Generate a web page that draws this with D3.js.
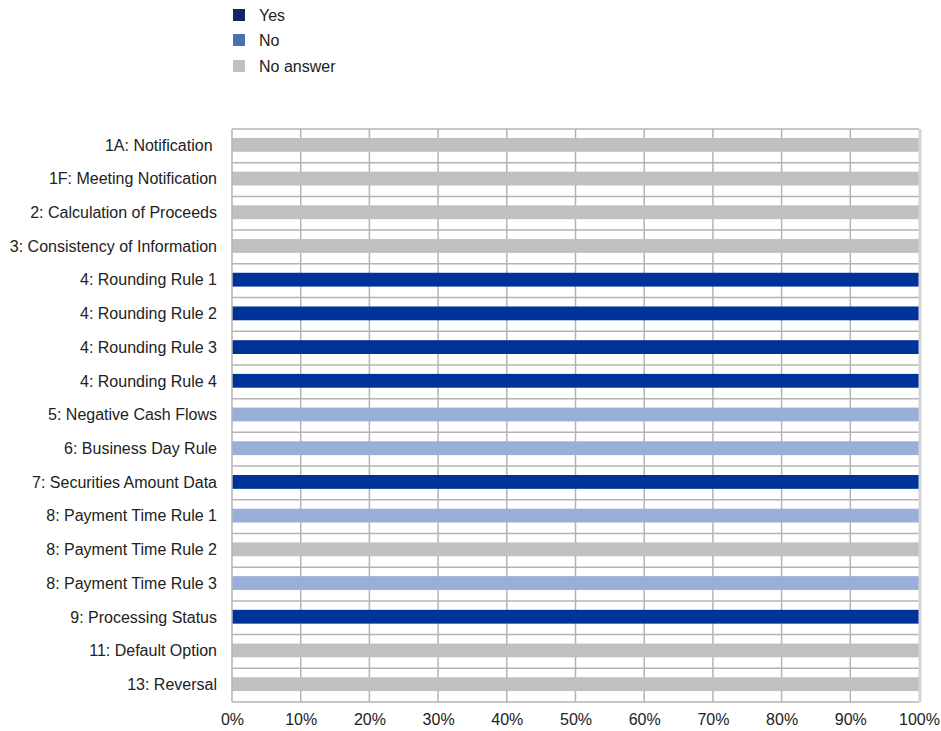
<!DOCTYPE html>
<html lang="en">
<head>
  <meta charset="UTF-8">
  <title>Responses by rule</title>
  <script src="https://d3js.org/d3.v7.min.js"></script>
  <style>
    body { margin: 0; padding: 0; background: #fff; font-family: "Liberation Sans", Arial, sans-serif; }
    svg { display: block; }
    text { fill: #222; font-size: 16px; }
  </style>
</head>
<body>
  <svg width="941" height="731"></svg>
  <script>
    const categories = [
      "1A: Notification\u00a0", "1F: Meeting Notification", "2: Calculation of Proceeds",
      "3: Consistency of Information", "4: Rounding Rule 1", "4: Rounding Rule 2",
      "4: Rounding Rule 3", "4: Rounding Rule 4", "5: Negative Cash Flows",
      "6: Business Day Rule", "7: Securities Amount Data", "8: Payment Time Rule 1",
      "8: Payment Time Rule 2", "8: Payment Time Rule 3", "9: Processing Status",
      "11: Default Option", "13: Reversal"
    ];
    // share of answers, percent
    const yes      = [0, 0, 0, 0, 100, 100, 100, 100, 0, 0, 100, 0, 0, 0, 100, 0, 0];
    const no       = [0, 0, 0, 0, 0, 0, 0, 0, 100, 100, 0, 100, 0, 100, 0, 0, 0];
    const noAnswer = [100, 100, 100, 100, 0, 0, 0, 0, 0, 0, 0, 0, 100, 0, 0, 100, 100];
    const seriesNames = ["Yes", "No", "No answer"];
    const xTicks = [0, 10, 20, 30, 40, 50, 60, 70, 80, 90, 100];

    const barColors = ["#003399", "#98afd7", "#c0c0c0"];
    const legendColors = ["#0b2a5e", "#4b70b2", "#c0c0c0"];

    const svg = d3.select("svg");
    const margin = { left: 232, right: 22, top: 129, bottom: 29 };
    const width = 941, height = 731;
    const font = "'Liberation Sans', Arial, sans-serif";

    const x = d3.scaleLinear().domain([0, 100]).range([margin.left, width - margin.right]);
    const y = d3.scaleBand().domain(categories).range([margin.top, height - margin.bottom]).paddingInner(0).paddingOuter(0);

    const table = categories.map((c, i) => ({ cat: c, Yes: yes[i], No: no[i], "No answer": noAnswer[i] }));
    const stacked = d3.stack().keys(seriesNames)(table);

    // vertical gridlines
    svg.append("g")
      .selectAll("line")
      .data(xTicks.slice(1, -1))
      .join("line")
      .attr("x1", d => x(d)).attr("x2", d => x(d))
      .attr("y1", margin.top).attr("y2", height - margin.bottom)
      .attr("stroke", "#b4b4b4").attr("stroke-width", 1.5);

    // horizontal row lines
    svg.append("g")
      .selectAll("line")
      .data(categories.slice(1))
      .join("line")
      .attr("x1", margin.left).attr("x2", width - margin.right)
      .attr("y1", d => y(d)).attr("y2", d => y(d))
      .attr("stroke", "#b4b4b4").attr("stroke-width", 1.5);

    // bars
    const barH = y.bandwidth() * 0.41;
    svg.append("g")
      .selectAll("g")
      .data(stacked)
      .join("g")
      .attr("fill", (d, i) => barColors[i])
      .selectAll("rect")
      .data(d => d.filter(p => p[1] > p[0]))
      .join("rect")
      .attr("x", d => x(d[0]))
      .attr("width", d => x(d[1]) - x(d[0]))
      .attr("y", d => y(d.data.cat) + y.bandwidth() / 2 - barH / 2 - 1)
      .attr("height", barH);

    // plot frame
    svg.append("line")
      .attr("x1", width - margin.right + 1).attr("x2", width - margin.right + 1)
      .attr("y1", margin.top).attr("y2", height - margin.bottom)
      .attr("stroke", "#d4d4d4").attr("stroke-width", 3);
    svg.append("line")
      .attr("x1", margin.left).attr("x2", width - margin.right)
      .attr("y1", margin.top).attr("y2", margin.top)
      .attr("stroke", "#b4b4b4").attr("stroke-width", 1.5);
    svg.append("line")
      .attr("x1", margin.left).attr("x2", width - margin.right)
      .attr("y1", height - margin.bottom).attr("y2", height - margin.bottom)
      .attr("stroke", "#b4b4b4").attr("stroke-width", 1.5);
    svg.append("line")
      .attr("x1", margin.left).attr("x2", margin.left)
      .attr("y1", margin.top).attr("y2", height - margin.bottom)
      .attr("stroke", "#b4b4b4").attr("stroke-width", 1.5);

    // category labels
    const yAxis = svg.append("g")
      .attr("transform", `translate(${margin.left},0)`)
      .call(d3.axisLeft(y).tickSize(0).tickPadding(15));
    yAxis.select(".domain").remove();
    yAxis.selectAll("text")
      .attr("dy", "0.3em")
      .style("font-size", "16px")
      .style("font-family", font)
      .style("white-space", "pre")
      .attr("fill", "#222");

    // x tick labels
    const xAxis = svg.append("g")
      .attr("transform", `translate(0,${height - margin.bottom})`)
      .call(d3.axisBottom(x).tickValues(xTicks).tickSize(0).tickPadding(12).tickFormat(d => d + "%"));
    xAxis.select(".domain").remove();
    xAxis.selectAll("text")
      .style("font-size", "16px")
      .style("font-family", font)
      .attr("fill", "#222");

    // legend
    const legend = svg.append("g").attr("transform", "translate(233,9)");
    const item = legend.selectAll("g")
      .data(seriesNames)
      .join("g")
      .attr("transform", (d, i) => `translate(0,${[0, 25, 51][i]})`);
    item.append("rect")
      .attr("width", 12).attr("height", 12)
      .attr("fill", (d, i) => legendColors[i]);
    item.append("text")
      .attr("x", 26).attr("y", 12)
      .text(d => d);
  </script>
</body>
</html>
